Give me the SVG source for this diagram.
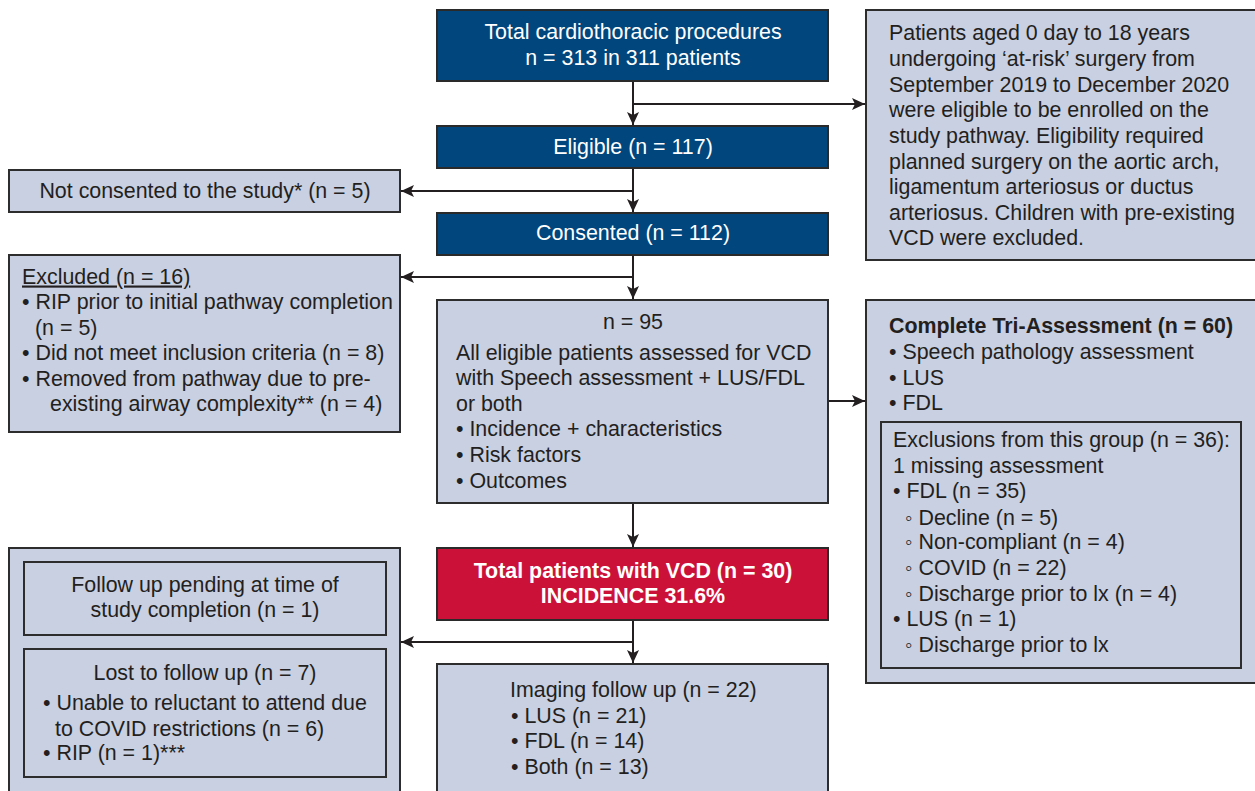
<svg xmlns="http://www.w3.org/2000/svg" width="1255" height="791" viewBox="0 0 1255 791">
<defs>
<style>
text{font-family:"Liberation Sans",Arial,Helvetica,sans-serif;font-size:21.4px;fill:#231f20}
.w{fill:#ffffff}
.b{font-weight:bold}
.c{text-anchor:middle}
.blue{fill:#01467d;stroke:#2a2a2a;stroke-width:2}
.lt{fill:#c8d0e2;stroke:#2d2d2d;stroke-width:2}
.red{fill:#cc1139;stroke:#2a2a2a;stroke-width:2}
.in{fill:none;stroke:#2d2d2d;stroke-width:2}
.con{fill:none;stroke:#231f20;stroke-width:2}
</style>
<marker id="ah" markerUnits="userSpaceOnUse" markerWidth="14" markerHeight="12" refX="13" refY="6" orient="auto">
<path d="M0,0 L13,6 L0,12 L3,6 Z" fill="#231f20"/>
</marker>
</defs>
<rect width="1255" height="791" fill="#ffffff"/>

<g id="connectors">
<line class="con" x1="633" y1="81" x2="633" y2="125" marker-end="url(#ah)"/>
<line class="con" x1="633" y1="104" x2="865" y2="104" marker-end="url(#ah)"/>
<line class="con" x1="633" y1="168" x2="633" y2="212" marker-end="url(#ah)"/>
<line class="con" x1="633" y1="191" x2="401" y2="191" marker-end="url(#ah)"/>
<line class="con" x1="633" y1="255" x2="633" y2="299" marker-end="url(#ah)"/>
<line class="con" x1="633" y1="277" x2="401" y2="277" marker-end="url(#ah)"/>
<line class="con" x1="828" y1="401" x2="865" y2="401" marker-end="url(#ah)"/>
<line class="con" x1="633" y1="503" x2="633" y2="547" marker-end="url(#ah)"/>
<line class="con" x1="633" y1="620" x2="633" y2="663" marker-end="url(#ah)"/>
<line class="con" x1="633" y1="642" x2="401" y2="642" marker-end="url(#ah)"/>
</g>

<g id="total">
<rect class="blue" x="437" y="10" width="391" height="71"/>
<text class="w c" x="633" y="39">Total cardiothoracic procedures</text>
<text class="w c" x="633" y="65">n = 313 in 311 patients</text>
</g>

<g id="criteria">
<rect class="lt" x="866" y="10" width="392" height="250"/>
<text x="889" y="40">Patients aged 0 day to 18 years</text>
<text x="889" y="66">undergoing ‘at-risk’ surgery from</text>
<text x="889" y="91.5">September 2019 to December 2020</text>
<text x="889" y="117">were eligible to be enrolled on the</text>
<text x="889" y="143">study pathway. Eligibility required</text>
<text x="889" y="169">planned surgery on the aortic arch,</text>
<text x="889" y="194">ligamentum arteriosus or ductus</text>
<text x="889" y="220">arteriosus. Children with pre-existing</text>
<text x="889" y="245">VCD were excluded.</text>
</g>

<g id="eligible">
<rect class="blue" x="437" y="126" width="391" height="42"/>
<text class="w c" x="633" y="154">Eligible (n = 117)</text>
</g>

<g id="notconsented">
<rect class="lt" x="9" y="170" width="391" height="42"/>
<text class="c" x="205" y="198">Not consented to the study* (n = 5)</text>
</g>

<g id="consented">
<rect class="blue" x="437" y="213" width="391" height="42"/>
<text class="w c" x="633" y="240">Consented (n = 112)</text>
</g>

<g id="excluded">
<rect class="lt" x="9" y="255" width="391" height="177"/>
<text x="22" y="283.5" text-decoration="underline">Excluded (n = 16)</text>
<text x="22" y="309">• RIP prior to initial pathway completion</text>
<text x="35" y="334.5">(n = 5)</text>
<text x="22" y="360">• Did not meet inclusion criteria (n = 8)</text>
<text x="22" y="385.5">• Removed from pathway due to pre-</text>
<text x="50" y="411">existing airway complexity** (n = 4)</text>
</g>

<g id="assessed">
<rect class="lt" x="437" y="300" width="391" height="203"/>
<text class="c" x="633" y="329">n = 95</text>
<text x="456" y="360">All eligible patients assessed for VCD</text>
<text x="456" y="385">with Speech assessment + LUS/FDL</text>
<text x="456" y="411">or both</text>
<text x="456" y="436">• Incidence + characteristics</text>
<text x="456" y="462">• Risk factors</text>
<text x="456" y="488">• Outcomes</text>
</g>

<g id="triassessment">
<rect class="lt" x="866" y="300" width="392" height="383"/>
<text class="b" x="889" y="333">Complete Tri-Assessment (n = 60)</text>
<text x="889" y="359">• Speech pathology assessment</text>
<text x="889" y="385">• LUS</text>
<text x="889" y="410">• FDL</text>
<rect class="in" x="881" y="422" width="360" height="246"/>
<text x="893" y="447">Exclusions from this group (n = 36):</text>
<text x="893" y="473">1 missing assessment</text>
<text x="893" y="498">• FDL (n = 35)</text>
<text x="905" y="524.5">◦ Decline (n = 5)</text>
<text x="905" y="549">◦ Non-compliant (n = 4)</text>
<text x="905" y="574.5">◦ COVID (n = 22)</text>
<text x="905" y="601">◦ Discharge prior to lx (n = 4)</text>
<text x="893" y="626">• LUS (n = 1)</text>
<text x="905" y="652">◦ Discharge prior to lx</text>
</g>

<g id="vcd">
<rect class="red" x="437" y="548" width="391" height="72"/>
<text class="w b c" x="633" y="578">Total patients with VCD (n = 30)</text>
<text class="w b c" x="633" y="603">INCIDENCE 31.6%</text>
</g>

<g id="followup">
<rect class="lt" x="9" y="548" width="391" height="260"/>
<rect class="in" x="24" y="562" width="362" height="73"/>
<text class="c" x="205" y="592">Follow up pending at time of</text>
<text class="c" x="205" y="617">study completion (n = 1)</text>
<rect class="in" x="24" y="649" width="362" height="128"/>
<text class="c" x="205" y="680">Lost to follow up (n = 7)</text>
<text x="43" y="710">• Unable to reluctant to attend due</text>
<text x="55" y="736">to COVID restrictions (n = 6)</text>
<text x="43" y="760">• RIP (n = 1)***</text>
</g>

<g id="imaging">
<rect class="lt" x="437" y="664" width="391" height="150"/>
<text x="510" y="697">Imaging follow up (n = 22)</text>
<text x="511" y="723">• LUS (n = 21)</text>
<text x="511" y="748">• FDL (n = 14)</text>
<text x="511" y="774">• Both (n = 13)</text>
</g>
</svg>
